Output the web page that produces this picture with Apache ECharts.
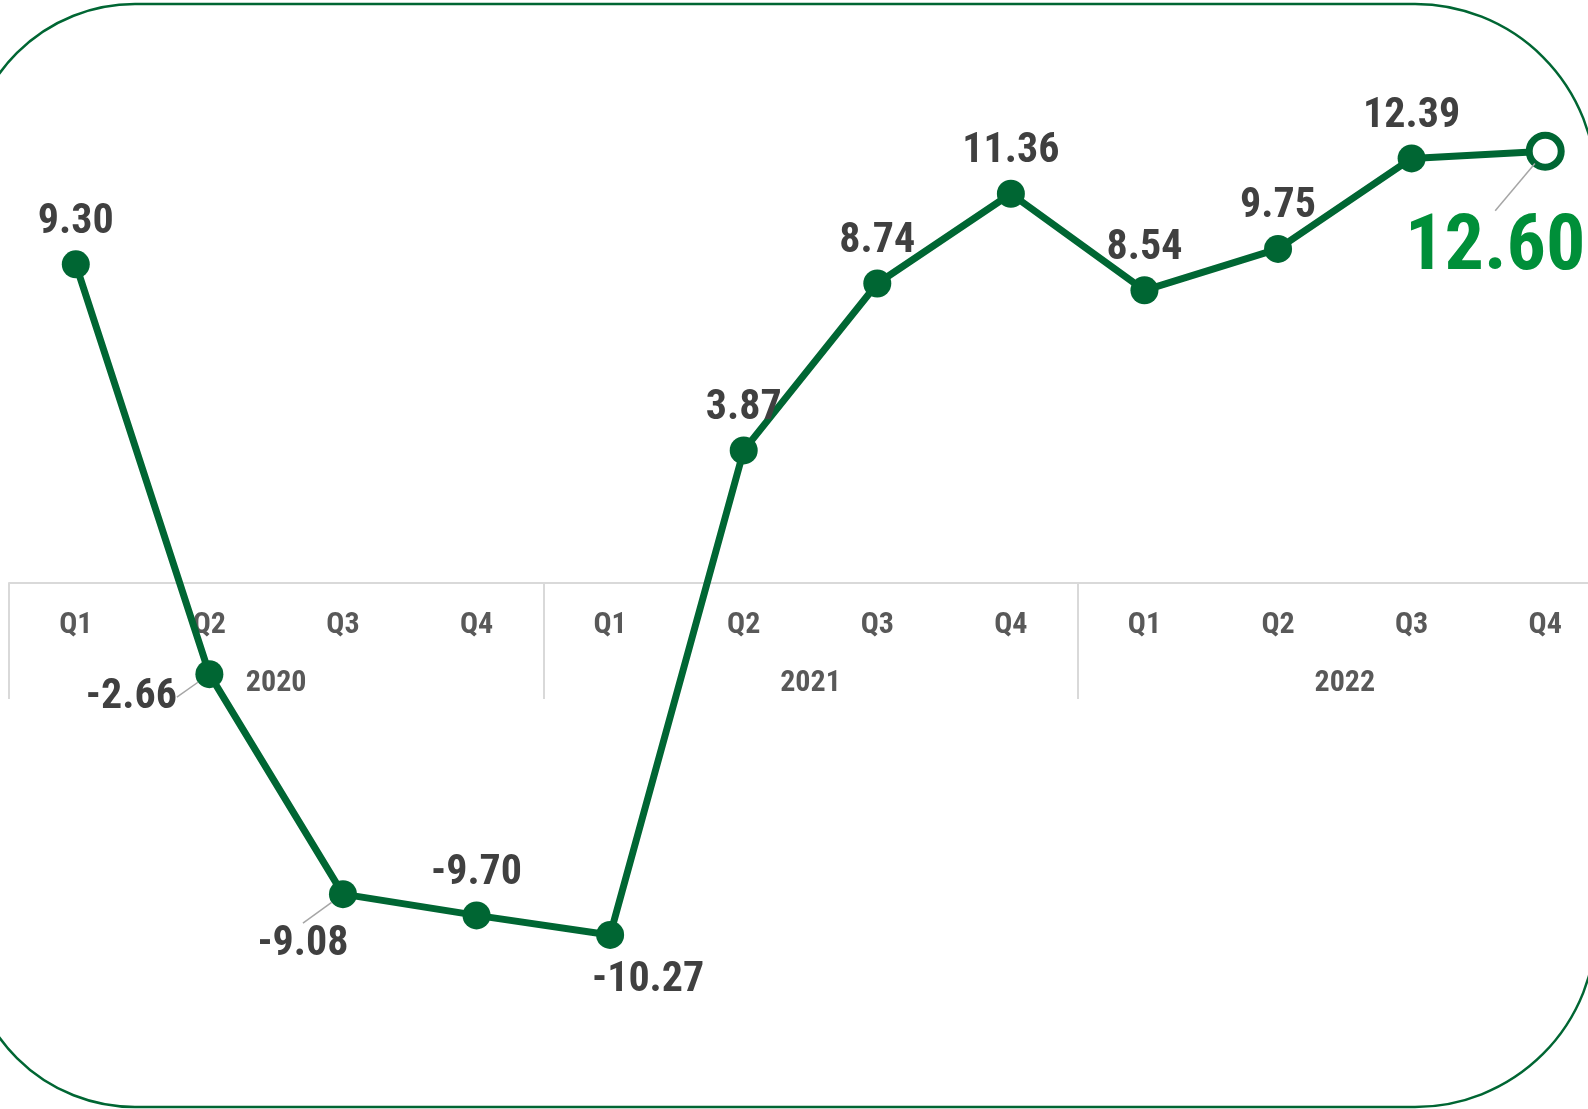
<!DOCTYPE html>
<html>
<head>
<meta charset="utf-8">
<script src="https://cdn.jsdelivr.net/npm/echarts@6/dist/echarts.min.js"></script>
<style>
  html, body { margin: 0; padding: 0; background: #fff; overflow: hidden; }
  /* wider than the window: the last band runs past the right edge */
  #chart { width: 1640px; height: 1109px; }
</style>
</head>
<body>
<div id="chart"></div>
<script>
// data
const quarters = ['Q1', 'Q2', 'Q3', 'Q4', 'Q1', 'Q2', 'Q3', 'Q4', 'Q1', 'Q2', 'Q3', 'Q4']
const years = ['2020', '2021', '2022']
const values = [9.30, -2.66, -9.08, -9.70, -10.27, 3.87, 8.74, 11.36, 8.54, 9.75, 12.39, 12.60]

const GREEN = '#006633'
const FONT = 'Roboto, "Liberation Sans", sans-serif'
const WEIGHT = 'bold condensed'

// labels that sit somewhere other than straight above the point
const labelShift = {
  1: [-78, 65],
  2: [-40, 92],
  4: [38, 88],
  11: [-50, 164]
}
const withGuide = [1, 2, 11]
const last = values.length - 1

const seriesData = values.map((v, i) => {
  const item = { value: v }
  if (withGuide.includes(i)) {
    item.labelLine = { show: true, showAbove: true, lineStyle: { color: '#a6a6a6', width: 1.5 } }
  }
  if (i === last) {
    item.symbolSize = 32
    item.itemStyle = { color: '#fff', borderColor: GREEN, borderWidth: 7 }
    item.label = { color: '#008F39', fontSize: 78 }
  }
  return item
})

const axisText = {
  interval: 0,
  fontFamily: FONT,
  fontSize: 30,
  fontWeight: WEIGHT,
  color: '#595959'
}

const chart = echarts.init(document.getElementById('chart'))

chart.setOption({
  animation: false,
  graphic: [{
    type: 'rect',
    z: -1,
    silent: true,
    shape: { x: -32, y: 4, width: 1628, height: 1103, r: [167, 181, 181, 167] },
    style: { fill: 'none', stroke: GREEN, lineWidth: 2.5 }
  }],
  // grid bottom sits on the zero line, negative values are drawn below it
  grid: {
    left: 9,
    right: 28,
    top: 69,
    bottom: 526
  },
  xAxis: [
    {
      type: 'category',
      position: 'bottom',
      offset: 0,
      data: quarters,
      boundaryGap: true,
      axisLine: { onZero: false, lineStyle: { color: '#d9d9d9', width: 2 } },
      axisTick: { show: false },
      axisLabel: { ...axisText, margin: 27 },
      splitLine: { show: false }
    },
    {
      type: 'category',
      position: 'bottom',
      offset: 0,
      data: years,
      boundaryGap: true,
      axisLine: { show: false, onZero: false },
      axisTick: {
        show: true,
        interval: 0,
        length: 116,
        lineStyle: { color: '#d9d9d9', width: 2 }
      },
      axisLabel: { ...axisText, margin: 85 },
      splitLine: { show: false }
    }
  ],
  yAxis: {
    type: 'value',
    min: 0,
    max: 15,
    show: false,
    splitLine: { show: false }
  },
  series: [
    {
      type: 'line',
      xAxisIndex: 0,
      data: seriesData,
      clip: false,
      symbol: 'circle',
      symbolSize: 28,
      lineStyle: { color: GREEN, width: 7 },
      itemStyle: { color: GREEN },
      label: {
        show: true,
        position: 'top',
        distance: 7,
        fontFamily: FONT,
        fontSize: 42,
        fontWeight: WEIGHT,
        color: '#404040',
        formatter: p => p.value.toFixed(2)
      },
      labelLayout: params => {
        const s = labelShift[params.dataIndex]
        return s ? { dx: s[0], dy: s[1] } : {}
      },
      emphasis: { disabled: true }
    }
  ]
})
</script>
</body>
</html>
